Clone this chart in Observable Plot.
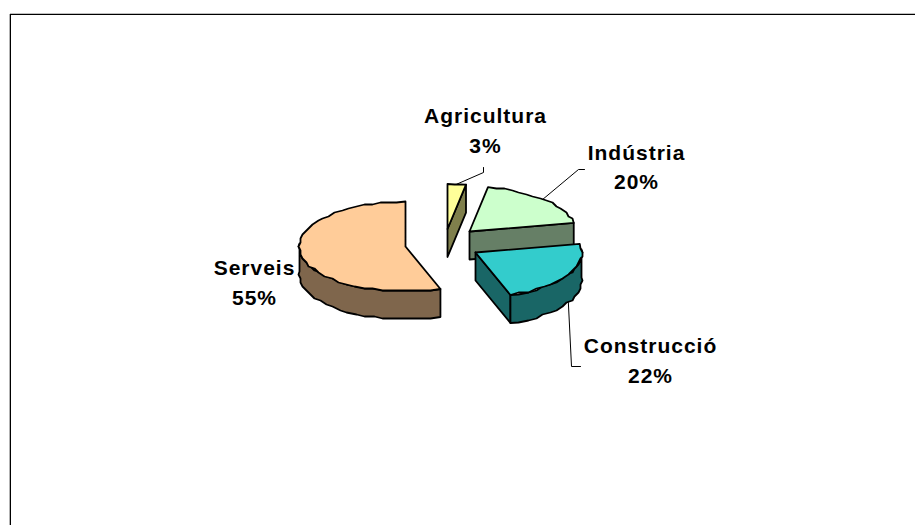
<!DOCTYPE html>
<html><head><meta charset="utf-8">
<style>html,body{margin:0;padding:0;background:#fff}svg{display:block}</style>
<script src="https://cdn.jsdelivr.net/npm/d3@7"></script>
<script src="https://cdn.jsdelivr.net/npm/@observablehq/plot@0.6"></script>
</head><body><div id="chart"></div>
<script>
// Data
const categories = ["Agricultura", "Indústria", "Construcció", "Serveis"];
const shares = [3, 20, 22, 55];
const topColors = ["#FFFF99", "#CCFFCC", "#33CCCC", "#FFCC99"];
const sideColors = ["#7F7F4C", "#667F66", "#196666", "#7F664C"];

// Layout of the tilted pie, in chart units
const rx = 106, ry = 45, depth = 28, perspective = 0.07, lift = 3, grid = 2;
const centers = [[447, 228.5], [469, 231], [475, 252], [405, 246]];
const leaderBends = [[[483, 172], [483, 167]], [[578, 169], [584, 169]], [[571, 366], [580, 366]], null];
const labelAnchors = [[485, 128], [636, 164.5], [650, 358], [254, 280]];
const drawOrder = [3, 0, 1, 2];

const TAU = Math.PI * 2;
let acc = 0;
const slices = categories.map((name, i) => {
  const a0 = acc / 100 * TAU; acc += shares[i]; const a1 = acc / 100 * TAU;
  return {name, i, a0, a1, value: shares[i], cx: centers[i][0], cy: centers[i][1]};
});
const rim = (s, a, dz = 0, snap = false) => {
  const sn = Math.sin(a), cs = Math.cos(a);
  let x = s.cx + rx * sn * (1 - perspective * cs);
  let y = s.cy - ry * cs - lift * sn * sn;
  if (snap) { x = Math.round(x / grid) * grid; y = Math.round(y / grid) * grid; }
  return [x, y + dz];
};
const arc = (s, a0, a1, dz = 0) => {
  const n = Math.max(1, Math.ceil((a1 - a0) / (TAU / 72)));
  return d3.range(n + 1).map(k => rim(s, a0 + (a1 - a0) * k / n, dz, k > 0 && k < n));
};

const polys = [];
let pid = 0;
const add = (pts, fill) => { pid++; const c = [...pts, pts[0]]; c.forEach(p => polys.push({id: pid, x: p[0], y: p[1], fill})); };
for (const i of drawOrder) {
  const s = slices[i];
  const apex = [s.cx, s.cy];
  const apexLow = [s.cx, s.cy + depth];
  // visible cut faces (facing the viewer)
  if (Math.sin(s.a1) > 1e-6) {
    const e = rim(s, s.a1), eLow = rim(s, s.a1, depth);
    add([apex, e, eLow, apexLow], sideColors[i]);
  }
  if (Math.sin(s.a0) < -1e-6) {
    const e = rim(s, s.a0), eLow = rim(s, s.a0, depth);
    add([apex, e, eLow, apexLow], sideColors[i]);
  }
  // visible outer wall (front half of the ellipse)
  const w0 = Math.max(s.a0, Math.PI / 2), w1 = Math.min(s.a1, Math.PI * 1.5);
  if (w1 > w0) add([...arc(s, w0, w1), ...arc(s, w0, w1, depth).reverse()], sideColors[i]);
  // top face
  add([apex, ...arc(s, s.a0, s.a1)], topColors[i]);
}

const leaders = [];
slices.forEach(s => {
  const bends = leaderBends[s.i];
  if (!bends) return;
  const mid = (s.a0 + s.a1) / 2;
  const start = rim(s, mid, Math.cos(mid) < 0 ? depth : 0);
  [start, ...bends].forEach(p => leaders.push({id: s.i, x: p[0], y: p[1]}));
});

const labels = slices.map(s => ({
  text: `${s.name}\n${s.value}%`, x: labelAnchors[s.i][0], y: labelAnchors[s.i][1]
}));

const W = 915, H = 525;
const chart = Plot.plot({
  width: W, height: H, margin: 0,
  x: {domain: [0, W], range: [0, W], axis: null},
  y: {domain: [0, H], range: [0, H], axis: null},
  style: {background: "#fff", letterSpacing: "1px"},
  marks: [
    Plot.ruleY([13.85], {x1: 10, x2: W, stroke: "#000", strokeWidth: 1.3}),
    Plot.ruleX([9.85], {y1: 14, y2: H, stroke: "#000", strokeWidth: 1.3}),
    Plot.line(leaders, {x: "x", y: "y", z: "id", stroke: "#000", strokeWidth: 1}),
    Plot.line(polys, {x: "x", y: "y", z: "id", fill: d => d.fill, stroke: "#000", strokeWidth: 1.8, strokeLinejoin: "round"}),
    Plot.text(labels, {x: "x", y: "y", text: "text", fontFamily: "Liberation Sans", fontWeight: "bold", fontSize: 21, lineHeight: 1.42, fill: "#000"})
  ]
});
document.getElementById("chart").append(chart);
</script></body></html>
